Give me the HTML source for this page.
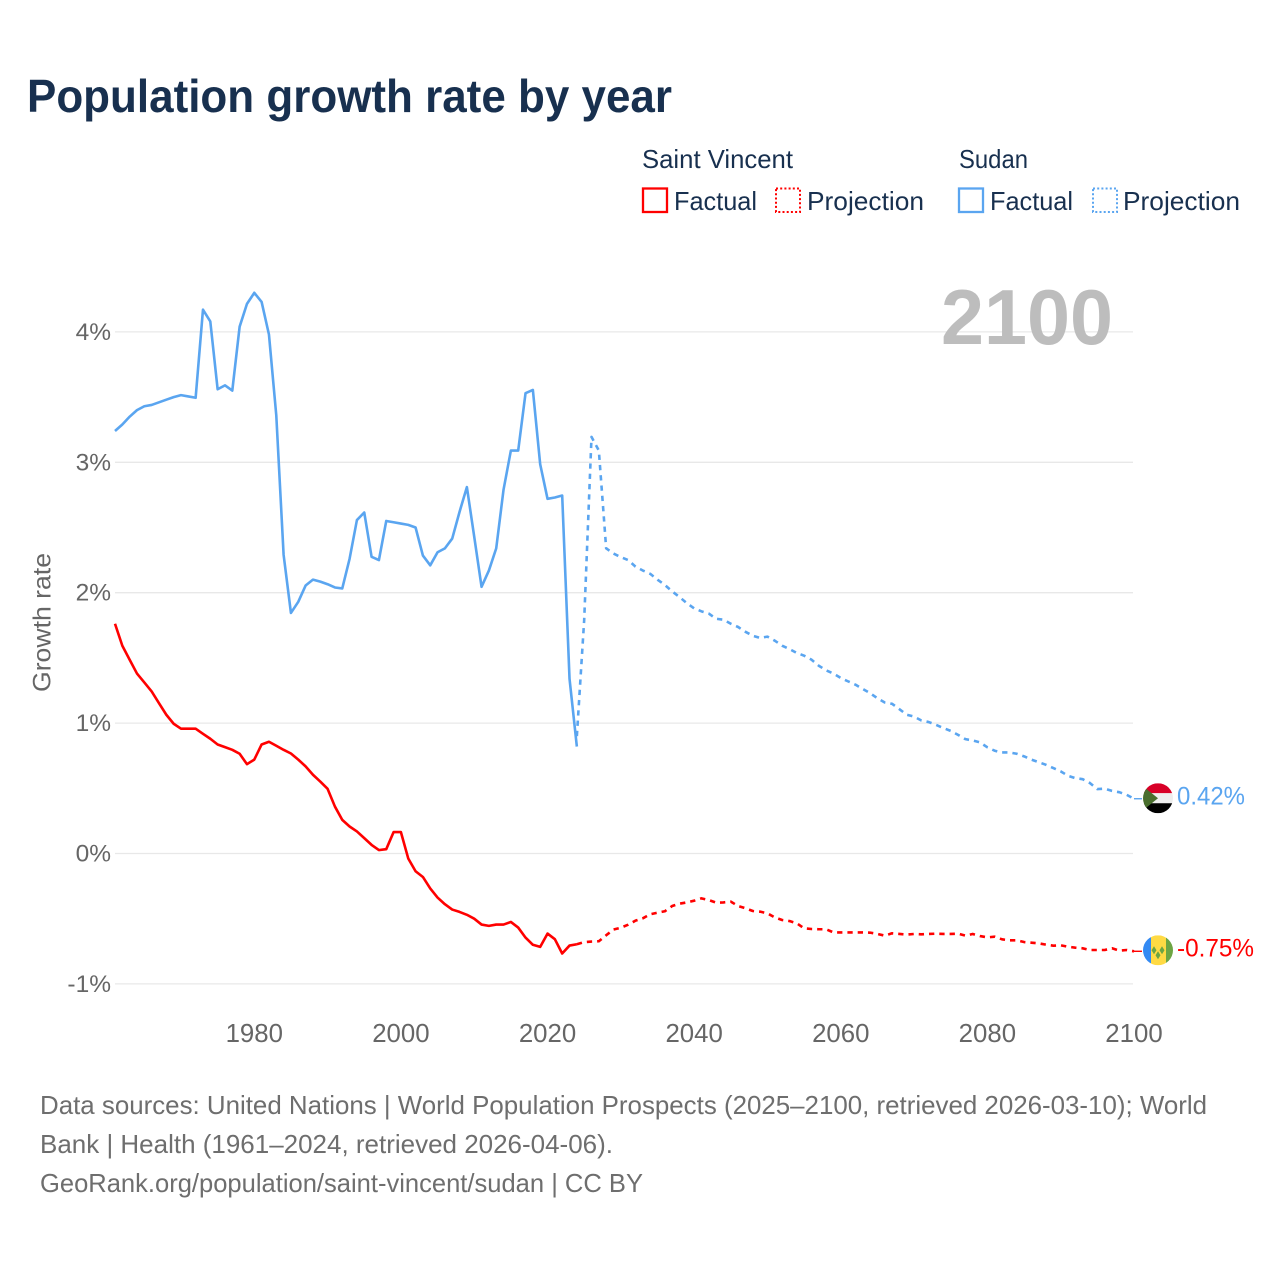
<!DOCTYPE html>
<html lang="en">
<head>
<meta charset="utf-8">
<title>Population growth rate by year</title>
<style>
html,body{margin:0;padding:0;background:#fff}
svg{display:block}
text{font-family:"Liberation Sans",sans-serif}
</style>
</head>
<body>
<svg id="chart" xmlns="http://www.w3.org/2000/svg" width="1280" height="1280" viewBox="0 0 1280 1280">
  <rect x="0" y="0" width="1280" height="1280" fill="#ffffff"/>
  <text x="27" y="112" font-size="46" font-weight="700" fill="#18304f" textLength="645" lengthAdjust="spacingAndGlyphs">Population growth rate by year</text>

  <g font-size="26" fill="#18304f">
    <text x="642" y="168" textLength="151" lengthAdjust="spacingAndGlyphs">Saint Vincent</text>
    <text x="959" y="168" textLength="69" lengthAdjust="spacingAndGlyphs">Sudan</text>
    <rect x="643" y="188.5" width="24" height="23.5" fill="none" stroke="#ff0000" stroke-width="2.3"/>
    <text x="674" y="210" textLength="83" lengthAdjust="spacingAndGlyphs">Factual</text>
    <rect x="776" y="188.5" width="24" height="23.5" fill="none" stroke="#ff0000" stroke-width="2" stroke-dasharray="2 2.2"/>
    <text x="807" y="210" textLength="117" lengthAdjust="spacingAndGlyphs">Projection</text>
    <rect x="959" y="188.5" width="24" height="23.5" fill="none" stroke="#5aa5f0" stroke-width="2.3"/>
    <text x="990" y="210" textLength="83" lengthAdjust="spacingAndGlyphs">Factual</text>
    <rect x="1093" y="188.5" width="24" height="23.5" fill="none" stroke="#5aa5f0" stroke-width="2" stroke-dasharray="2 2.2"/>
    <text x="1123" y="210" textLength="117" lengthAdjust="spacingAndGlyphs">Projection</text>
  </g>

  <g id="grid"></g>
  <g id="yticks"></g>
  <g id="xticks"></g>
  <text transform="translate(50.5,622.5) rotate(-90)" text-anchor="middle" font-size="25" fill="#666666" textLength="139" lengthAdjust="spacingAndGlyphs">Growth rate</text>
  <text x="941" y="344" font-size="78" font-weight="700" fill="#bdbdbd" textLength="172" lengthAdjust="spacingAndGlyphs">2100</text>

  <g id="series"></g>
  <defs>
    <clipPath id="clip-sudan"><circle cx="0" cy="0" r="15"/></clipPath>
    <clipPath id="clip-svg"><circle cx="0" cy="0" r="15"/></clipPath>
  </defs>
  <g id="flag-sudan">
    <g clip-path="url(#clip-sudan)">
      <rect x="-15" y="-15" width="30" height="10" fill="#d80027"/>
      <rect x="-15" y="-5" width="30" height="10" fill="#eeeeee"/>
      <rect x="-15" y="5" width="30" height="10" fill="#000000"/>
      <polygon points="-15,-12 0,0 -15,12" fill="#496e2d"/>
    </g>
  </g>
  <g id="flag-saint-vincent">
    <g clip-path="url(#clip-svg)">
      <rect x="-15" y="-15" width="8" height="30" fill="#338af3"/>
      <rect x="-7" y="-15" width="15" height="30" fill="#ffda44"/>
      <rect x="8" y="-15" width="7" height="30" fill="#6da544"/>
      <polygon points="-4,-4 -1.5,0 -4,4 -6.5,0" fill="#6da544"/>
      <polygon points="4,-4 6.5,0 4,4 1.5,0" fill="#6da544"/>
      <polygon points="0,1 2.5,5 0,9 -2.5,5" fill="#6da544"/>
    </g>
  </g>
  <text id="end-label-sudan" x="1177" font-size="25" fill="#5aa5f0" textLength="68" lengthAdjust="spacingAndGlyphs"></text>
  <text id="end-label-saint-vincent" x="1177" font-size="25" fill="#ff0000" textLength="77" lengthAdjust="spacingAndGlyphs"></text>

  <g font-size="26" fill="#6e6e6e">
    <text x="40" y="1114" textLength="1167" lengthAdjust="spacingAndGlyphs">Data sources: United Nations | World Population Prospects (2025–2100, retrieved 2026-03-10); World</text>
    <text x="40" y="1153" textLength="573" lengthAdjust="spacingAndGlyphs">Bank | Health (1961–2024, retrieved 2026-04-06).</text>
    <text x="40" y="1192" textLength="603" lengthAdjust="spacingAndGlyphs">GeoRank.org/population/saint-vincent/sudan | CC BY</text>
  </g>
</svg>
<script>
const factualYears = [1961,1962,1963,1964,1965,1966,1967,1968,1969,1970,1971,1972,1973,1974,1975,1976,1977,1978,1979,1980,1981,1982,1983,1984,1985,1986,1987,1988,1989,1990,1991,1992,1993,1994,1995,1996,1997,1998,1999,2000,2001,2002,2003,2004,2005,2006,2007,2008,2009,2010,2011,2012,2013,2014,2015,2016,2017,2018,2019,2020,2021,2022,2023,2024];
const projectionYears = [2024,2025,2026,2027,2028,2029,2030,2031,2032,2033,2034,2035,2036,2037,2038,2039,2040,2041,2042,2043,2044,2045,2046,2047,2048,2049,2050,2051,2052,2053,2054,2055,2056,2057,2058,2059,2060,2061,2062,2063,2064,2065,2066,2067,2068,2069,2070,2071,2072,2073,2074,2075,2076,2077,2078,2079,2080,2081,2082,2083,2084,2085,2086,2087,2088,2089,2090,2091,2092,2093,2094,2095,2096,2097,2098,2099,2100];
const sudanFactual = [3.24,3.29,3.35,3.40,3.43,3.44,3.46,3.48,3.50,3.515,3.505,3.495,4.17,4.08,3.56,3.59,3.55,4.04,4.215,4.30,4.23,3.98,3.36,2.29,1.845,1.93,2.055,2.10,2.085,2.065,2.04,2.033,2.26,2.557,2.615,2.275,2.25,2.55,2.54,2.53,2.52,2.50,2.285,2.21,2.31,2.34,2.415,2.62,2.81,2.43,2.045,2.17,2.34,2.79,3.09,3.09,3.53,3.555,2.985,2.72,2.73,2.745,1.34,0.82];
const sudanProjection = [0.90,1.79,3.195,3.09,2.34,2.30,2.273,2.25,2.20,2.17,2.145,2.10,2.06,2.01,1.967,1.92,1.88,1.857,1.84,1.80,1.793,1.762,1.737,1.70,1.67,1.653,1.663,1.632,1.594,1.568,1.538,1.517,1.487,1.44,1.405,1.38,1.346,1.32,1.295,1.262,1.23,1.19,1.158,1.148,1.107,1.064,1.05,1.02,1.008,0.987,0.962,0.94,0.91,0.877,0.867,0.852,0.814,0.788,0.775,0.775,0.765,0.745,0.72,0.70,0.68,0.655,0.63,0.596,0.578,0.57,0.54,0.494,0.497,0.48,0.47,0.45,0.42];
const saintVincentFactual = [1.762,1.593,1.486,1.38,1.312,1.243,1.153,1.064,0.995,0.957,0.957,0.957,0.918,0.88,0.836,0.816,0.795,0.765,0.685,0.72,0.836,0.857,0.826,0.795,0.767,0.72,0.668,0.604,0.552,0.496,0.36,0.258,0.207,0.169,0.118,0.066,0.026,0.033,0.164,0.164,-0.038,-0.136,-0.18,-0.268,-0.338,-0.389,-0.43,-0.448,-0.47,-0.50,-0.545,-0.555,-0.545,-0.545,-0.525,-0.568,-0.645,-0.70,-0.716,-0.614,-0.657,-0.767,-0.706,-0.696];
const saintVincentProjection = [-0.696,-0.68,-0.675,-0.673,-0.627,-0.583,-0.569,-0.546,-0.515,-0.497,-0.466,-0.454,-0.443,-0.403,-0.385,-0.375,-0.362,-0.344,-0.357,-0.377,-0.375,-0.369,-0.403,-0.42,-0.441,-0.446,-0.459,-0.49,-0.51,-0.518,-0.535,-0.574,-0.579,-0.581,-0.581,-0.605,-0.605,-0.605,-0.605,-0.605,-0.607,-0.617,-0.63,-0.612,-0.617,-0.622,-0.617,-0.62,-0.617,-0.615,-0.617,-0.617,-0.615,-0.63,-0.617,-0.633,-0.643,-0.638,-0.658,-0.666,-0.666,-0.679,-0.684,-0.689,-0.699,-0.707,-0.704,-0.715,-0.722,-0.727,-0.74,-0.74,-0.74,-0.727,-0.745,-0.74,-0.75];
const yTickValues = [-1,0,1,2,3,4];
const xTickYears = [1980,2000,2020,2040,2060,2080,2100];

const SVG_NS = 'http://www.w3.org/2000/svg';
const xScale = function (year) { return 115 + (year - 1961) * (1134 - 115) / (2100 - 1961); };
const yScale = function (value) { return 853.5 - value * 130.4; };
const RED = '#ff0000';
const BLUE = '#5aa5f0';

const gridGroup = document.getElementById('grid');
const yTickGroup = document.getElementById('yticks');
yTickValues.forEach(function (v) {
  const line = document.createElementNS(SVG_NS, 'line');
  
  
  line.setAttribute('x1', 115);
  line.setAttribute('x2', 1133);
  line.setAttribute('y1', yScale(v));
  line.setAttribute('y2', yScale(v));
  line.setAttribute('stroke', '#e8e8e8');
  line.setAttribute('stroke-width', '1.3');
  gridGroup.appendChild(line);
  const label = document.createElementNS(SVG_NS, 'text');
  
  
  label.setAttribute('x', 111);
  label.setAttribute('y', yScale(v) + 8);
  label.setAttribute('text-anchor', 'end');
  label.setAttribute('font-size', '24.5');
  label.setAttribute('fill', '#666666');
  label.textContent = v + '%';
  yTickGroup.appendChild(label);
});

const xTickGroup = document.getElementById('xticks');
xTickYears.forEach(function (year) {
  const label = document.createElementNS(SVG_NS, 'text');
  
  
  label.setAttribute('x', xScale(year));
  label.setAttribute('y', 1042);
  label.setAttribute('text-anchor', 'middle');
  label.setAttribute('font-size', '25.8');
  label.setAttribute('fill', '#666666');
  label.textContent = String(year);
  xTickGroup.appendChild(label);
});

function pathFrom(years, values) {
  return years.map(function (year, i) {
    return (i ? 'L' : 'M') + xScale(year).toFixed(2) + ' ' + yScale(values[i]).toFixed(2);
  }).join(' ');
}

const seriesGroup = document.getElementById('series');
function addLine(name, years, values, color, dashed) {
  const path = document.createElementNS(SVG_NS, 'path');
  
  
  path.setAttribute('d', pathFrom(years, values));
  path.setAttribute('fill', 'none');
  path.setAttribute('stroke', color);
  path.setAttribute('stroke-width', '2.6');
  path.setAttribute('stroke-linejoin', 'round');
  if (dashed) path.setAttribute('stroke-dasharray', '5.3 5');
  seriesGroup.appendChild(path);
}
addLine('sudan-projection-line', projectionYears, sudanProjection, BLUE, true);
addLine('saint-vincent-projection-line', projectionYears, saintVincentProjection, RED, true);
addLine('sudan-factual-line', factualYears, sudanFactual, BLUE, false);
addLine('saint-vincent-factual-line', factualYears, saintVincentFactual, RED, false);

function addEnd(nameSuffix, values, color, flagId, labelId, cyOffset, labelOffset) {
  const last = values[values.length - 1];
  const y = yScale(last);
  const connector = document.createElementNS(SVG_NS, 'line');
  
  
  connector.setAttribute('x1', 1134);
  connector.setAttribute('x2', 1142);
  connector.setAttribute('y1', y);
  connector.setAttribute('y2', y);
  connector.setAttribute('stroke', color);
  connector.setAttribute('stroke-width', '1.4');
  seriesGroup.appendChild(connector);
  document.getElementById(flagId).setAttribute('transform', 'translate(1158,' + (y + cyOffset) + ')');
  const label = document.getElementById(labelId);
  label.setAttribute('y', y + labelOffset);
  label.textContent = last.toFixed(2) + '%';
}
addEnd('sudan', sudanProjection, BLUE, 'flag-sudan', 'end-label-sudan', -0.5, 6);
addEnd('saint-vincent', saintVincentProjection, RED, 'flag-saint-vincent', 'end-label-saint-vincent', -1, 5);
</script>
</body>
</html>
